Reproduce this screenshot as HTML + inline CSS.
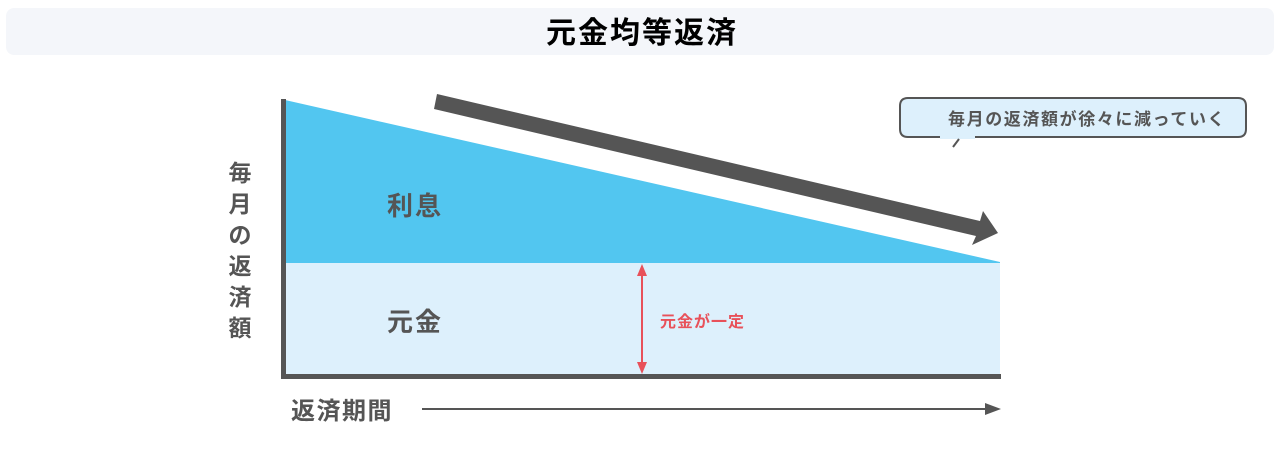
<!DOCTYPE html>
<html><head><meta charset="utf-8"><style>
body{margin:0;width:1280px;height:462px;background:#fff;overflow:hidden;font-family:"Liberation Sans","Noto Sans CJK JP",sans-serif;}
</style></head><body>
<svg width="1280" height="462" xmlns="http://www.w3.org/2000/svg" style="position:absolute;left:0;top:0" font-family="Liberation Sans, Noto Sans CJK JP, sans-serif">
<rect x="6" y="8" width="1268" height="47" rx="8" fill="#f4f6fa"/>
<text x="642" y="43" text-anchor="middle" font-size="30" font-weight="bold" fill="#000" letter-spacing="2">元金均等返済</text>
<polygon points="285,100 1000,262 1000,263 285,263" fill="#52c6f0"/>
<rect x="285" y="263" width="715" height="111" fill="#ddf0fc"/>
<rect x="281" y="99" width="5" height="279" fill="#555"/>
<rect x="281" y="374" width="720" height="5" fill="#555"/>
<polygon points="437,94 980,221 983,211 998,233 972,245 976,236 434,109" fill="#555"/>
<text x="387" y="215" font-size="26" font-weight="bold" fill="#555" letter-spacing="2">利息</text>
<text x="387" y="331" font-size="26" font-weight="bold" fill="#555" letter-spacing="2">元金</text>
<line x1="642" y1="274" x2="642" y2="366" stroke="#e8515a" stroke-width="2"/>
<polygon points="642,264 637,276 647,276" fill="#e8515a"/>
<polygon points="642,374 637,362 647,362" fill="#e8515a"/>
<text x="660" y="327" font-size="16" font-weight="bold" fill="#e8515a" letter-spacing="1">元金が一定</text>
<g font-size="23" font-weight="bold" fill="#555" text-anchor="middle">
<text x="240" y="181">毎</text><text x="240" y="212">月</text><text x="240" y="243">の</text><text x="240" y="274">返</text><text x="240" y="305">済</text><text x="240" y="336">額</text>
</g>
<text x="291" y="419" font-size="24" font-weight="bold" fill="#555" letter-spacing="1.5">返済期間</text>
<line x1="422" y1="409" x2="990" y2="409" stroke="#555" stroke-width="2"/>
<polygon points="1001,409 985,403 985,415" fill="#555"/>
<path d="M940,137 H908 Q900,137 900,129 V106 Q900,98 908,98 H1238 Q1246,98 1246,106 V129 Q1246,137 1238,137 H975" fill="#ddf0fc" stroke="#555" stroke-width="2"/>
<rect x="940" y="130" width="35" height="9" fill="#ddf0fc"/>
<line x1="959" y1="139" x2="953" y2="147" stroke="#555" stroke-width="2"/>
<text x="948" y="125" font-size="17" font-weight="bold" fill="#555" letter-spacing="1.6">毎月の返済額が徐々に減っていく</text>
</svg>
</body></html>
